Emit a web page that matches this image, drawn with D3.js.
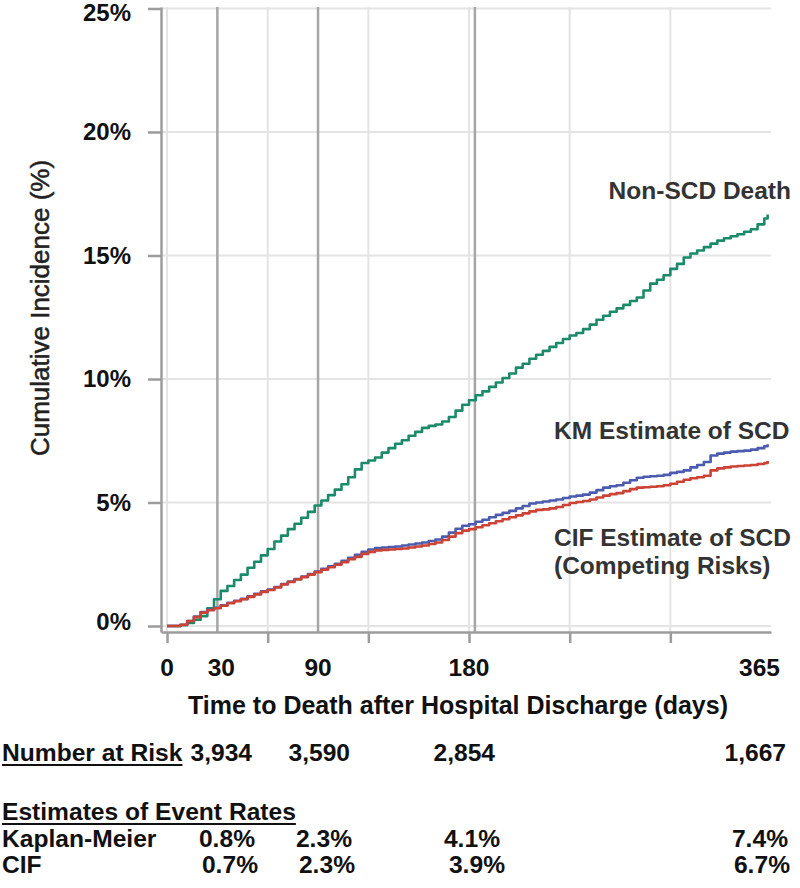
<!DOCTYPE html>
<html>
<head>
<meta charset="utf-8">
<script src="https://cdn.jsdelivr.net/npm/d3@7/dist/d3.min.js"></script>
<style>
  html, body { margin: 0; padding: 0; background: #fff; }
  svg { display: block; font-family: "Liberation Sans", Arial, sans-serif; }
</style>
</head>
<body>
<svg id="chart" width="800" height="888"></svg>
<script>
// ---------------- DATA ----------------
const days = [0,4,8,12,16,20,24,28,32,36,40,44,48,52,56,60,64,68,72,76,80,84,88,92,96,100,104,108,112,116,120,124,128,132,136,140,144,148,152,156,160,164,168,172,176,180,184,188,192,196,200,204,208,212,216,220,224,228,232,236,240,244,248,252,256,260,264,268,272,276,280,284,288,292,296,300,304,308,312,316,320,324,328,332,336,340,344,348,352,356,358];

const nonSCD = [0,0,0.03,0.12,0.25,0.4,0.72,1.08,1.42,1.62,1.86,2.08,2.36,2.6,2.86,3.12,3.42,3.66,3.92,4.14,4.38,4.62,4.88,5.08,5.3,5.52,5.74,6.02,6.34,6.6,6.7,6.82,7.02,7.2,7.38,7.52,7.7,7.86,8.02,8.1,8.16,8.28,8.46,8.72,8.96,9.14,9.34,9.5,9.68,9.86,10.04,10.22,10.46,10.62,10.82,10.98,11.14,11.3,11.46,11.62,11.76,11.86,12.02,12.2,12.4,12.56,12.72,12.86,13.0,13.16,13.3,13.58,13.86,14.02,14.2,14.46,14.66,14.92,15.08,15.2,15.34,15.48,15.6,15.7,15.78,15.86,15.96,16.06,16.26,16.5,16.66];

const kmSCD = [0,0,0.05,0.2,0.38,0.56,0.66,0.74,0.84,0.94,1.02,1.1,1.2,1.3,1.4,1.48,1.58,1.7,1.8,1.9,2.0,2.1,2.2,2.32,2.42,2.52,2.64,2.76,2.88,3.0,3.1,3.16,3.18,3.2,3.22,3.26,3.3,3.34,3.38,3.44,3.5,3.62,3.78,3.94,4.06,4.12,4.22,4.3,4.4,4.5,4.58,4.66,4.76,4.86,4.96,5.0,5.04,5.08,5.12,5.18,5.24,5.28,5.32,5.4,5.5,5.6,5.66,5.7,5.8,5.9,6.0,6.04,6.06,6.08,6.12,6.2,6.24,6.3,6.42,6.52,6.64,6.9,6.98,7.02,7.06,7.08,7.1,7.14,7.2,7.28,7.36];

const cifSCD = [0,0,0.05,0.2,0.36,0.54,0.64,0.72,0.82,0.92,1.0,1.08,1.18,1.28,1.38,1.46,1.56,1.68,1.78,1.88,1.98,2.08,2.18,2.28,2.38,2.48,2.58,2.7,2.8,2.92,3.0,3.06,3.08,3.1,3.12,3.14,3.18,3.22,3.26,3.32,3.38,3.48,3.62,3.76,3.86,3.92,4.0,4.08,4.16,4.24,4.32,4.4,4.48,4.56,4.64,4.7,4.72,4.76,4.82,4.9,4.98,5.02,5.06,5.12,5.2,5.28,5.34,5.38,5.46,5.54,5.6,5.62,5.64,5.66,5.7,5.76,5.84,5.92,5.98,6.02,6.08,6.3,6.38,6.42,6.46,6.48,6.5,6.52,6.56,6.6,6.68];

const yTicks = [0,5,10,15,20,25];
const xTicks = [0,60,120,180,240,300];
const xLabels = ["0","30","90","180","365"];
const xLabelDays = [0,30,90,180,360];
const refLineDays = [30,90,183.5];

const seriesNames = ["Non-SCD Death","KM Estimate of SCD","CIF Estimate of SCD","(Competing Risks)"];

const riskLabel = "Number at Risk";
const riskValues = ["3,934","3,590","2,854","1,667"];
const ratesTitle = "Estimates of Event Rates";
const kmLabel = "Kaplan-Meier";
const kmRates = ["0.8%","2.3%","4.1%","7.4%"];
const cifLabel = "CIF";
const cifRates = ["0.7%","2.3%","3.9%","6.7%"];

// ---------------- LAYOUT ----------------
const svg = d3.select("#chart");
const x = d3.scaleLinear().domain([-3.6, 360]).range([161, 771]);
const y = d3.scaleLinear().domain([-0.243, 25.06]).range([632, 7]);

const gridColor = "#e4e4e4";
const axisColor = "#9c9c9c";
const refColor = "#a6a6a6";
const colors = ["#1b8a6b", "#4a5bb0", "#cc4234"];

// light grid
svg.append("g").selectAll("line").data(yTicks).join("line")
  .attr("x1", x(-3.6)).attr("x2", x(360))
  .attr("y1", d => y(d)).attr("y2", d => y(d))
  .attr("stroke", gridColor).attr("stroke-width", 2);
svg.append("g").selectAll("line").data(xTicks).join("line")
  .attr("x1", d => x(d)).attr("x2", d => x(d))
  .attr("y1", y(25.06)).attr("y2", y(-0.243))
  .attr("stroke", gridColor).attr("stroke-width", 2);

// reference (dark) vertical lines
svg.append("g").selectAll("line").data(refLineDays).join("line")
  .attr("x1", d => x(d)).attr("x2", d => x(d))
  .attr("y1", y(25.06)).attr("y2", y(-0.243))
  .attr("stroke", refColor).attr("stroke-width", 2.5);

// axes
const yAxis = d3.axisLeft(y).tickValues(yTicks).tickSize(13).tickSizeOuter(0).tickFormat("");
const gy = svg.append("g").attr("transform", "translate(161,0)").call(yAxis);
gy.selectAll("path,line").attr("stroke", axisColor).attr("stroke-width", 2.5);

const xAxis = d3.axisBottom(x).tickValues(xTicks).tickSize(11).tickSizeOuter(0).tickFormat("");
const gx = svg.append("g").attr("transform", "translate(0,632)").call(xAxis);
gx.selectAll("path,line").attr("stroke", axisColor).attr("stroke-width", 2.5);

// y tick labels
svg.append("g").selectAll("text").data(yTicks).join("text")
  .attr("x", 131).attr("y", d => Math.min(Math.max(y(d), 13), 622)).attr("dy", "0.35em")
  .attr("text-anchor", "end")
  .attr("font-size", 24).attr("font-weight", "bold").attr("fill", "#111")
  .text(d => d + "%");

// x tick labels
svg.append("g").selectAll("text").data(xLabels).join("text")
  .attr("x", (d, i) => i === xLabels.length - 1 ? x(xLabelDays[i]) + 9 : x(xLabelDays[i]) + (i === 1 ? 4 : 0))
  .attr("y", 676)
  .attr("text-anchor", (d, i) => i === xLabels.length - 1 ? "end" : "middle")
  .attr("font-size", 24.5).attr("font-weight", "bold").attr("fill", "#111")
  .text(d => d);

// axis titles
svg.append("text")
  .attr("transform", "translate(49,308) rotate(-90)")
  .attr("text-anchor", "middle")
  .attr("font-size", 26).attr("fill", "#222")
  .attr("stroke", "#222").attr("stroke-width", 0.5)
  .text("Cumulative Incidence (%)");
svg.append("text")
  .attr("x", 458).attr("y", 714)
  .attr("text-anchor", "middle")
  .attr("font-size", 25).attr("font-weight", "bold").attr("fill", "#111")
  .text("Time to Death after Hospital Discharge (days)");

// curves (step)
const line = d3.line().x(d => x(d[0])).y(d => y(d[1])).curve(d3.curveStepAfter);
const allSeries = [nonSCD, kmSCD, cifSCD];
[0, 1, 2].forEach(i => {
  svg.append("path")
    .datum(days.map((d, j) => [d, allSeries[i][j]]))
    .attr("d", line)
    .attr("fill", "none")
    .attr("stroke", colors[i])
    .attr("stroke-width", 2.6)
    .attr("stroke-linejoin", "round");
});

// series labels
const lab = svg.append("g").attr("font-size", 24.5).attr("font-weight", "bold").attr("fill", "#333");
lab.append("text").attr("x", 791).attr("y", 199).attr("text-anchor", "end").text(seriesNames[0]);
lab.append("text").attr("x", 554).attr("y", 439).attr("text-anchor", "start").text(seriesNames[1]);
lab.append("text").attr("x", 554).attr("y", 546).attr("text-anchor", "start").text(seriesNames[2]);
lab.append("text").attr("x", 554).attr("y", 574).attr("text-anchor", "start").text(seriesNames[3]);

// ---------------- TABLE ----------------
const tbl = svg.append("g").attr("font-size", 24.6).attr("font-weight", "bold").attr("fill", "#111");
function underlined(txt, xx, yy) {
  const t = tbl.append("text").attr("x", xx).attr("y", yy).text(txt);
  const w = t.node().getComputedTextLength();
  tbl.append("line").attr("x1", xx).attr("x2", xx + w).attr("y1", yy + 4).attr("y2", yy + 4)
    .attr("stroke", "#111").attr("stroke-width", 2);
}
underlined(riskLabel, 2, 761);
underlined(ratesTitle, 2, 820);
tbl.append("text").attr("x", 2).attr("y", 847).text(kmLabel);
tbl.append("text").attr("x", 2).attr("y", 873).text(cifLabel);

const riskRight = [252, 350, 495, 786];
const kmRight = [255, 352, 500, 788];
const cifRight = [258, 355, 505, 790];
tbl.selectAll("text.r").data(riskValues).join("text").attr("class", "r")
  .attr("x", (d, i) => riskRight[i]).attr("y", 761).attr("text-anchor", "end").text(d => d);
tbl.selectAll("text.k").data(kmRates).join("text").attr("class", "k")
  .attr("x", (d, i) => kmRight[i]).attr("y", 847).attr("text-anchor", "end").text(d => d);
tbl.selectAll("text.c").data(cifRates).join("text").attr("class", "c")
  .attr("x", (d, i) => cifRight[i]).attr("y", 873).attr("text-anchor", "end").text(d => d);
</script>
</body>
</html>
